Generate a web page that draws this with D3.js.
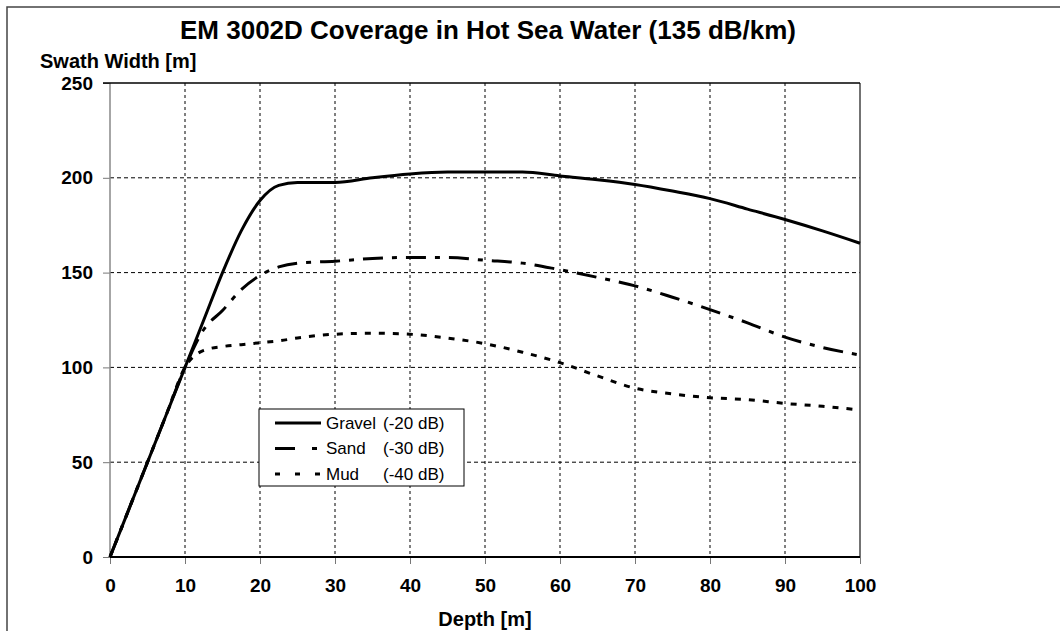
<!DOCTYPE html>
<html>
<head>
<meta charset="utf-8">
<script src="https://cdn.jsdelivr.net/npm/d3@7"></script>
<style>
  body { margin: 0; background: #fff; }
  text { font-family: "Liberation Sans", Arial, sans-serif; fill: #000; }
  .tick-label { font-size: 19px; font-weight: bold; }
  .axis-title { font-size: 20px; font-weight: bold; }
</style>
</head>
<body>
<svg id="chart"></svg>
<script>
// Chart data
var depth = [0, 2.5, 5, 7.5, 10, 12.5, 15, 17.5, 20, 22.5, 25, 30, 35, 40, 45, 50, 55, 60, 65, 70, 75, 80, 85, 90, 95, 100];
var gravel = [0, 25, 50, 75, 100, 125, 150, 172, 188, 196, 197.5, 197.5, 200, 202, 203, 203, 203, 201, 199, 196.5, 193, 189, 183.5, 178, 172, 165.5];
var sand = [0, 25, 50, 75, 100, 120, 130, 141, 148.5, 153, 155, 156, 157.5, 158, 158, 156.5, 155, 151.5, 147.5, 143, 137, 130.5, 123.5, 116, 110.5, 106.5];
var mud = [0, 25, 50, 75, 100, 109, 111, 112, 113, 114, 115.5, 117.5, 118, 117.5, 115.5, 112.5, 108, 102.5, 95.5, 89, 86, 84, 83, 81, 79.5, 77.5];

var seriesNames = ["Gravel", "Sand", "Mud"];
var seriesDb = ["(-20 dB)", "(-30 dB)", "(-40 dB)"];
var xTicks = [0, 10, 20, 30, 40, 50, 60, 70, 80, 90, 100];
var yTicks = [0, 50, 100, 150, 200, 250];

var title = "EM 3002D Coverage in Hot Sea Water (135 dB/km)";
var xTitle = "Depth [m]";
var yTitle = "Swath Width [m]";

// SVG size params
var width = 1060;
var height = 631;
var plot = { left: 110, right: 860, top: 83, bottom: 557 };

var svg = d3.select("#chart")
    .attr("width", width)
    .attr("height", height);

// Outer frame
svg.append("rect")
    .attr("x", 7).attr("y", 7)
    .attr("width", 1200).attr("height", 800)
    .attr("fill", "none")
    .attr("stroke", "#444")
    .attr("stroke-width", 1.5);

var x = d3.scaleLinear().domain([0, 100]).range([plot.left, plot.right]);
var y = d3.scaleLinear().domain([0, 250]).range([plot.bottom, plot.top]);

// Gridlines
svg.append("g")
    .attr("id", "gridX")
  .selectAll("line")
    .data(xTicks.slice(1, -1))
  .enter().append("line")
    .attr("x1", d => x(d)).attr("x2", d => x(d))
    .attr("y1", plot.top).attr("y2", plot.bottom)
    .attr("stroke", "#000")
    .attr("stroke-dasharray", "3,3");

svg.append("g")
    .attr("id", "gridY")
  .selectAll("line")
    .data(yTicks.slice(1, -1))
  .enter().append("line")
    .attr("x1", plot.left).attr("x2", plot.right)
    .attr("y1", d => y(d)).attr("y2", d => y(d))
    .attr("stroke", "#000")
    .attr("stroke-dasharray", "4,3");

// Axes
var xAxis = svg.append("g")
    .attr("transform", "translate(0," + plot.bottom + ")")
    .call(d3.axisBottom(x).tickValues(xTicks).tickSize(7).tickPadding(15));
xAxis.select(".domain").remove();
xAxis.selectAll("line").attr("stroke", "#777");
xAxis.selectAll("text").attr("class", "tick-label").attr("font-size", null).attr("font-family", null);

var yAxis = svg.append("g")
    .attr("transform", "translate(" + plot.left + ",0)")
    .call(d3.axisLeft(y).tickValues(yTicks).tickSize(7).tickPadding(10));
yAxis.select(".domain").remove();
yAxis.selectAll("line").attr("stroke", "#777");
yAxis.selectAll("text").attr("class", "tick-label").attr("font-size", null).attr("font-family", null);

// Plot area borders
svg.append("line")
    .attr("x1", plot.left).attr("x2", plot.left)
    .attr("y1", plot.top).attr("y2", plot.bottom)
    .attr("stroke", "#888").attr("stroke-width", 1.5);
svg.append("line")
    .attr("x1", plot.right).attr("x2", plot.right)
    .attr("y1", plot.top).attr("y2", plot.bottom)
    .attr("stroke", "#444").attr("stroke-width", 1.5);
svg.append("line")
    .attr("x1", plot.left - 7).attr("x2", plot.right)
    .attr("y1", plot.top).attr("y2", plot.top)
    .attr("stroke", "#000").attr("stroke-width", 1.5);
svg.append("line")
    .attr("x1", plot.left).attr("x2", plot.right)
    .attr("y1", plot.bottom).attr("y2", plot.bottom)
    .attr("stroke", "#000").attr("stroke-width", 2);

// Series lines
var dashes = [null, "20,9,5,9", "6,8"];
var lines = d3.line()
    .x((d, i) => x(depth[i]))
    .y(d => y(d))
    .curve(d3.curveMonotoneX);

svg.append("g")
    .attr("id", "series")
  .selectAll("path")
    .data([gravel, sand, mud])
  .enter().append("path")
    .attr("d", lines)
    .attr("fill", "none")
    .attr("stroke", "#000")
    .attr("stroke-width", 3)
    .attr("stroke-dasharray", (d, i) => dashes[i]);

// Titles
svg.append("text")
    .attr("x", 488).attr("y", 39)
    .attr("text-anchor", "middle")
    .style("font-size", "26px")
    .style("font-weight", "bold")
    .text(title);

svg.append("text")
    .attr("class", "axis-title")
    .attr("x", 40).attr("y", 68)
    .text(yTitle);

svg.append("text")
    .attr("class", "axis-title")
    .attr("x", 485).attr("y", 626)
    .attr("text-anchor", "middle")
    .text(xTitle);

// Legend
var legendDashes = [null, "20,17,5,9", "5,15"];
var legend = svg.append("g").attr("id", "legend");
legend.append("rect")
    .attr("x", 259).attr("y", 409)
    .attr("width", 205).attr("height", 77)
    .attr("fill", "#fff")
    .attr("stroke", "#000");

var items = legend.selectAll("g.item")
    .data(seriesNames)
  .enter().append("g")
    .attr("class", "item")
    .attr("transform", (d, i) => "translate(0," + (423 + i * 25.5) + ")");

items.append("line")
    .attr("x1", 275).attr("x2", 321)
    .attr("stroke", "#000")
    .attr("stroke-width", 3)
    .attr("stroke-dasharray", (d, i) => legendDashes[i]);

items.append("text")
    .attr("x", 326).attr("dy", "0.35em")
    .style("font-size", "17px")
    .text(d => d);

items.append("text")
    .attr("x", 383).attr("dy", "0.35em")
    .style("font-size", "17px")
    .text((d, i) => seriesDb[i]);
</script>
</body>
</html>
